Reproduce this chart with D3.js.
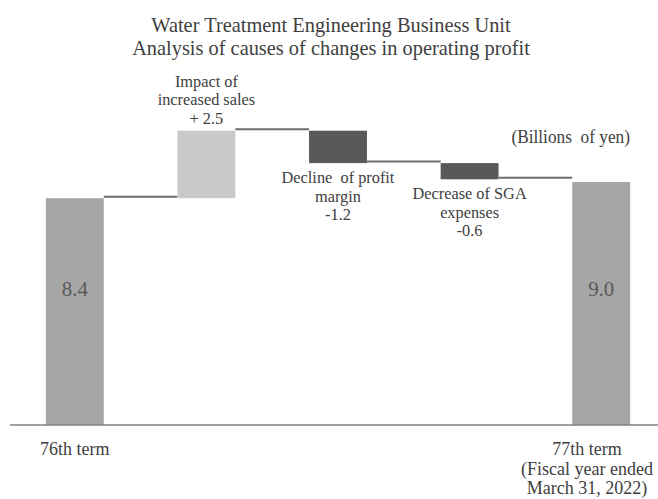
<!DOCTYPE html>
<html>
<head>
<meta charset="utf-8">
<script src="https://cdn.jsdelivr.net/npm/d3@7"></script>
<style>
  body { margin: 0; background: #fff; }
</style>
</head>
<body>
<div id="wrapper"></div>
<script>
// data
const categories = ["76th term", "Impact of increased sales", "Decline of profit margin", "Decrease of SGA expenses", "77th term"];
const values = [8.4, 2.5, -1.2, -0.6, 9.0];
const kinds = ["total", "delta", "delta", "delta", "total"];
const deltaLabels = [[], ["Impact of", "increased sales", "+ 2.5"], ["Decline\u00a0 of profit", "margin", "-1.2"], ["Decrease of SGA", "expenses", "-0.6"], []];
const tickLabels = [["76th term"], [], [], [], ["77th term", "(Fiscal year ended", "March 31, 2022)"]];
const titleLines = ["Water Treatment Engineering Business Unit", "Analysis of causes of changes in operating profit"];
const unitLabel = "(Billions\u00a0 of yen)";

const width = 658, height = 499;
const baseY = 425;
const FONT = "'Liberation Serif', 'Times New Roman', serif";

const svg = d3.select("#wrapper").append("svg")
    .attr("width", width)
    .attr("height", height)
    .attr("font-family", FONT);

// narrow the glyphs a little, the original font is narrower than Times
function narrow(sel, k = 0.93) {
    sel.each(function () {
        const w = this.getComputedTextLength();
        d3.select(this)
            .attr("textLength", w * k)
            .attr("lengthAdjust", "spacingAndGlyphs");
    });
}

// floating bars
let running = 0;
const bars = categories.map((c, i) => {
    let lo, hi;
    if (kinds[i] === "total") {
        lo = 0; hi = values[i]; running = values[i];
    } else {
        const start = running;
        running = start + values[i];
        lo = Math.min(start, running); hi = Math.max(start, running);
    }
    return { cat: c, i, lo, hi, end: running, value: values[i], kind: kinds[i] };
});

const xScale = d3.scaleBand()
    .domain(categories)
    .range([9, 667])
    .paddingInner(0.56)
    .paddingOuter(0.28);

const yScale = d3.scaleLinear()
    .domain([0, 12])
    .range([baseY, baseY - 324]);

const color = d => d.kind === "total" ? "#a6a6a6" : (d.value > 0 ? "#c9c9c9" : "#595959");
const cx = cat => xScale(cat) + xScale.bandwidth() / 2;

// title
svg.append("g").selectAll("text")
    .data(titleLines)
    .join("text")
        .attr("x", 331)
        .attr("y", (d, i) => 32 + i * 23)
        .attr("text-anchor", "middle")
        .attr("font-size", 21)
        .attr("fill", "#404040")
        .text(d => d)
        .call(narrow, 0.97);

// connectors
const connectors = bars.slice(0, -1).map((d, i) => ({ from: d, to: bars[i + 1], level: d.end }));
svg.append("g").selectAll("line")
    .data(connectors)
    .join("line")
        .attr("x1", d => xScale(d.from.cat) + xScale.bandwidth())
        .attr("x2", d => xScale(d.to.cat))
        .attr("y1", d => yScale(d.level) - 1.5)
        .attr("y2", d => yScale(d.level) - 1.5)
        .attr("stroke", "#6e6e6e")
        .attr("stroke-width", 2);

// bars
svg.append("g").selectAll("rect")
    .data(bars)
    .join("rect")
        .attr("x", d => xScale(d.cat))
        .attr("width", xScale.bandwidth())
        .attr("y", d => yScale(d.hi))
        .attr("height", d => yScale(d.lo) - yScale(d.hi))
        .attr("fill", color);

// axis line
svg.append("line")
    .attr("x1", 10).attr("x2", width)
    .attr("y1", baseY).attr("y2", baseY)
    .attr("stroke", "#7f7f7f")
    .attr("stroke-width", 1.5);

// values inside total bars
svg.append("g").selectAll("text")
    .data(bars.filter(d => d.kind === "total"))
    .join("text")
        .attr("x", d => cx(d.cat))
        .attr("y", 296)
        .attr("text-anchor", "middle")
        .attr("font-size", 22)
        .attr("fill", "#595959")
        .text(d => d3.format(".1f")(d.value))
        .call(narrow, 0.95);

// delta labels
bars.filter(d => d.kind === "delta").forEach(d => {
    const lines = deltaLabels[d.i];
    const lh = 18.5;
    const startY = d.value > 0
        ? yScale(d.hi) - 7 - (lines.length - 1) * lh
        : yScale(d.lo) + 20;
    svg.append("g").selectAll("text")
        .data(lines)
        .join("text")
            .attr("x", cx(d.cat))
            .attr("y", (t, j) => startY + j * lh)
            .attr("text-anchor", "middle")
            .attr("font-size", 17)
            .attr("fill", "#404040")
            .text(t => t)
            .call(narrow, 0.96);
});

// category labels, kept inside the right edge
tickLabels.forEach((lines, i) => {
    const texts = svg.append("g").selectAll("text")
        .data(lines)
        .join("text")
            .attr("x", cx(categories[i]))
            .attr("y", (t, j) => 455 + j * 19.5)
            .attr("text-anchor", "middle")
            .attr("font-size", 18)
            .attr("fill", "#404040")
            .text(t => t);
    let maxHalf = 0;
    texts.each(function () { maxHalf = Math.max(maxHalf, this.getComputedTextLength() / 2); });
    texts.attr("x", Math.min(cx(categories[i]), width - 5 - maxHalf));
});

// unit
svg.append("text")
    .attr("x", 630)
    .attr("y", 143)
    .attr("text-anchor", "end")
    .attr("font-size", 18)
    .attr("fill", "#404040")
    .text(unitLabel)
    .call(narrow, 0.96);
</script>
</body>
</html>
